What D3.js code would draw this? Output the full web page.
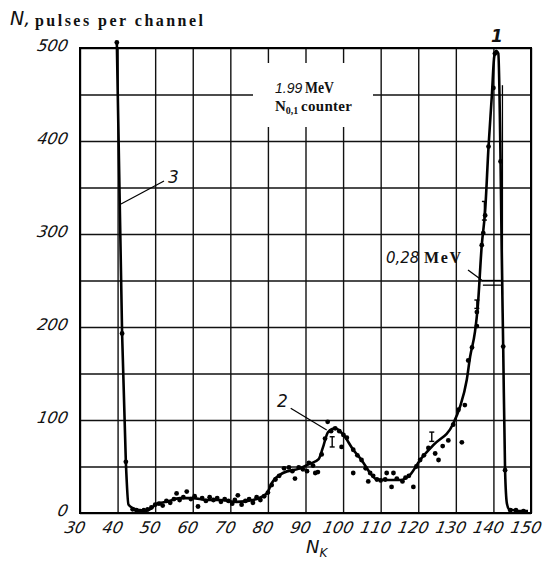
<!DOCTYPE html>
<html>
<head>
<meta charset="utf-8">
<script src="https://cdn.jsdelivr.net/npm/d3@7"></script>
<style>
  html, body { margin: 0; padding: 0; background: #fff; }
  svg { display: block; }
  .tick-label { font-family: "DejaVu Sans", sans-serif; font-style: italic; font-size: 16px; fill: #111; }
  .serif-b { font-family: "Liberation Serif", "DejaVu Serif", serif; font-weight: bold; font-style: normal; fill: #111; }
</style>
</head>
<body>
<svg id="chart" width="552" height="562"></svg>
<script>
// Channel axis ticks and count axis ticks
const xTicks = [30, 40, 50, 60, 70, 80, 90, 100, 110, 120, 130, 140, 150];
const yGrid = [0, 50, 100, 150, 200, 250, 300, 350, 400, 450, 500];
const yTicks = [0, 100, 200, 300, 400, 500];

// Smoothed spectrum: channel number and pulses per channel
const curveChannel = [39.8, 41.2, 42.2, 42.9, 44.2, 46, 47.7, 49, 50.4, 53, 56.6, 60, 63.7, 67.3, 71.7, 76, 79.7, 81, 84, 88.5, 91.2, 93.5, 94.6, 96, 97.9, 100.1, 102.7, 104.9, 107.2, 109, 111.2, 115.2, 117.8, 120.5, 124, 129.3, 131.1, 132.9, 133.8, 135.1, 135.8, 136.9, 137.8, 138.7, 139.6, 140.2, 140.7, 141.3, 141.9, 142.2, 142.6, 143.1, 143.6, 144.2, 145.5, 147, 149.2];
const curveCounts  = [506, 193, 55, 9, 5, 3, 2.5, 5, 10, 12, 16, 16, 14, 14, 12, 14, 21, 32, 43, 48, 53, 58, 70, 87, 91, 84, 68, 57, 43, 36, 35.5, 35.5, 41, 57, 73, 96, 114, 143, 168, 195, 220, 288, 325, 394, 450, 490, 497, 494, 378, 283, 179, 46, 10, 4, 3, 2, 2];

// Measured points
const dotChannel = [39.8, 41.2, 42.2, 44, 45, 46, 47, 48, 49, 50, 51, 52, 53, 54, 55, 55.7, 56.5, 57.5, 58.4, 59.5, 60.5, 61.4, 62.5, 63.5, 64.5, 65.5, 66.5, 67.5, 68.5, 69.5, 70.5, 71.2, 72, 73, 74, 75, 76, 77, 78, 79, 80, 81, 82, 83, 84.3, 85.6, 86.5, 87.2, 88.2, 89.3, 90.4, 90.9, 92, 92.6, 93.3, 94.3, 95.2, 95.9, 96.8, 97.9, 99, 99.6, 100.1, 101, 102.7, 102.7, 103.8, 104.9, 106, 106.7, 107.2, 108, 109, 110, 111.2, 111.6, 112.9, 113.4, 114.3, 115.8, 116.6, 117.5, 118.7, 119.5, 120.5, 121.5, 122.7, 124.5, 125.4, 126.5, 128, 129.3, 130.7, 131.6, 132.4, 133.3, 134.3, 135.6, 135.6, 136.9, 137.3, 137.8, 138.7, 140, 140.4, 141.9, 142.6, 143.1, 144.5, 146, 148];
const dotCounts  = [506, 193, 55, 4, 3, 2, 3, 4, 6, 9, 10, 8, 13, 11, 15, 21, 14, 17, 23, 15, 18, 7, 16, 13, 17, 14, 16, 12, 15, 13, 10, 14, 19, 9, 13, 15, 11, 17, 14, 18, 22, 30, 36, 40, 48, 49, 45, 37, 49, 47, 45, 54, 51, 43, 44, 63, 80, 98, 88, 91, 88, 71, 84, 81, 68, 43, 62, 57, 48, 34, 43, 40, 36, 35, 36, 43, 28, 43, 37, 34, 38, 40, 28, 50, 57, 62, 70, 64, 57, 72, 78, 95, 111, 76, 116, 164, 178, 201, 216, 288, 301, 320, 394, 457, 494, 378, 179, 46, 3, 3, 2];

// Statistical error bars: channel, low, high
const errChannel = [97.1, 123.6, 135.6, 137.6];
const errLow  = [71, 77, 220, 315];
const errHigh = [82, 87, 229, 335];

const svg = d3.select("#chart");
const x = d3.scaleLinear().domain([30, 150]).range([80, 531]);
const y = d3.scaleLinear().domain([0, 500]).range([513, 48]);
const plotH = y(0) - y(500);
const plotW = x(150) - x(30);

// Grid lines
svg.append("g")
  .attr("transform", `translate(0,${y(0)})`)
  .call(d3.axisBottom(x).tickValues(xTicks).tickSize(-plotH).tickFormat(""))
  .call(g => g.select(".domain").remove())
  .call(g => g.selectAll("line").attr("stroke", "#111").attr("stroke-width", 1.4));
svg.append("g")
  .attr("transform", `translate(${x(30)},0)`)
  .call(d3.axisLeft(y).tickValues(yGrid).tickSize(-plotW).tickFormat(""))
  .call(g => g.select(".domain").remove())
  .call(g => g.selectAll("line").attr("stroke", "#111").attr("stroke-width", 1.4));

// Frame
svg.append("rect")
  .attr("x", x(30)).attr("y", y(500))
  .attr("width", plotW).attr("height", plotH)
  .attr("fill", "none").attr("stroke", "#000").attr("stroke-width", 2);

// Blank panel behind the caption
svg.append("rect")
  .attr("x", 253).attr("y", 63).attr("width", 120).attr("height", 64)
  .attr("fill", "#fff");

// Tick labels (slanted drafting style)
svg.append("g")
  .attr("transform", `translate(-4,${y(0) + 9})`)
  .call(d3.axisBottom(x).tickValues(xTicks).tickSize(0).tickPadding(0))
  .call(g => g.select(".domain").remove())
  .call(g => g.selectAll("text").attr("class", "tick-label").style("font-style", "italic")
    .attr("dy", "0.71em").attr("y", 0).attr("transform", "skewX(-12)"));
svg.append("g")
  .attr("transform", `translate(68,-3)`)
  .call(d3.axisLeft(y).tickValues(yTicks).tickSize(0).tickPadding(0))
  .call(g => g.select(".domain").remove())
  .call(g => g.selectAll("text").attr("class", "tick-label").style("font-style", "italic")
    .attr("transform", "skewX(-12)"));

// Spectrum curve
const pts = curveChannel.map((c, i) => [c, curveCounts[i]]);
svg.append("path")
  .datum(pts)
  .attr("fill", "none").attr("stroke", "#000").attr("stroke-width", 2.6)
  .attr("stroke-linejoin", "round")
  .attr("d", d3.line().x(d => x(d[0])).y(d => y(d[1])).curve(d3.curveMonotoneX));

// Measured points
svg.append("g").selectAll("circle")
  .data(dotChannel.map((c, i) => [c, dotCounts[i]]))
  .join("circle")
  .attr("cx", d => x(d[0])).attr("cy", d => y(d[1])).attr("r", 2.4).attr("fill", "#000");

// Error bars
const eb = svg.append("g").attr("stroke", "#000").attr("stroke-width", 1.4);
errChannel.forEach((c, i) => {
  eb.append("line").attr("x1", x(c)).attr("x2", x(c)).attr("y1", y(errLow[i])).attr("y2", y(errHigh[i]));
  [errLow[i], errHigh[i]].forEach(v =>
    eb.append("line").attr("x1", x(c) - 2.5).attr("x2", x(c) + 2.5).attr("y1", y(v)).attr("y2", y(v)));
});

// Half-width marker of the main peak
const hw = svg.append("g").attr("stroke", "#000").attr("stroke-width", 1.3).attr("fill", "none");
hw.append("line").attr("x1", x(137.2)).attr("x2", x(142.0)).attr("y1", y(250)).attr("y2", y(250));
hw.append("line").attr("x1", x(137.2)).attr("x2", x(142.0)).attr("y1", y(245)).attr("y2", y(245));
hw.append("line").attr("x1", x(142.4)).attr("x2", x(142.4)).attr("y1", y(460)).attr("y2", y(235));
hw.append("line").attr("x1", 468).attr("y1", 270).attr("x2", 483).attr("y2", 281);

// Leader lines for curve numbers
const ld = svg.append("g").attr("stroke", "#000").attr("stroke-width", 1.2);
ld.append("line").attr("x1", 290.7).attr("y1", 408.3).attr("x2", 326.7).attr("y2", 430);
ld.append("line").attr("x1", 164).attr("y1", 181).attr("x2", 121).attr("y2", 204);

// Axis titles
const yt = svg.append("text").attr("x", 10).attr("y", 25);
yt.append("tspan").attr("class", "tick-label").style("font-size", "19px").text("N,");
yt.append("tspan").attr("class", "serif-b").attr("x", 35).attr("y", 26)
  .style("font-size", "16px").attr("textLength", 168).attr("lengthAdjust", "spacing")
  .text("pulses per channel");

const xt = svg.append("text").attr("x", 306).attr("y", 553).attr("class", "tick-label").style("font-size", "18px");
xt.append("tspan").text("N");
xt.append("tspan").attr("dy", 4).style("font-size", "12px").text("K");

// Caption: energy line and counter
svg.append("text").attr("x", 275).attr("y", 93)
  .style("font-family", "'Liberation Sans', sans-serif").style("font-style", "italic")
  .style("font-size", "14px").attr("fill", "#111").text("1.99");
svg.append("text").attr("x", 305).attr("y", 93).attr("class", "serif-b").style("font-size", "16px")
  .attr("textLength", 29).attr("lengthAdjust", "spacingAndGlyphs").text("MeV");
const cap2 = svg.append("text").attr("x", 275).attr("y", 111).attr("class", "serif-b").style("font-size", "15px");
cap2.append("tspan").text("N");
cap2.append("tspan").attr("dy", 3).style("font-size", "10px").text("0,1");
cap2.append("tspan").attr("dy", -3).attr("x", 301).attr("textLength", 51).attr("lengthAdjust", "spacing").text("counter");

// Peak-width annotation
svg.append("text").attr("x", 386).attr("y", 263).attr("class", "tick-label").style("font-size", "15px").text("0,28");
svg.append("text").attr("x", 424).attr("y", 263).attr("class", "serif-b").style("font-size", "16px")
  .attr("textLength", 37).attr("lengthAdjust", "spacing").text("MeV");

// Curve numbers
svg.append("text").attr("x", 491).attr("y", 42).attr("class", "tick-label").style("font-size", "17px").style("font-weight", "bold").text("1");
svg.append("text").attr("x", 277).attr("y", 407).attr("class", "tick-label").style("font-size", "17px").text("2");
svg.append("text").attr("x", 168).attr("y", 183).attr("class", "tick-label").style("font-size", "17px").text("3");
</script>
</body>
</html>
